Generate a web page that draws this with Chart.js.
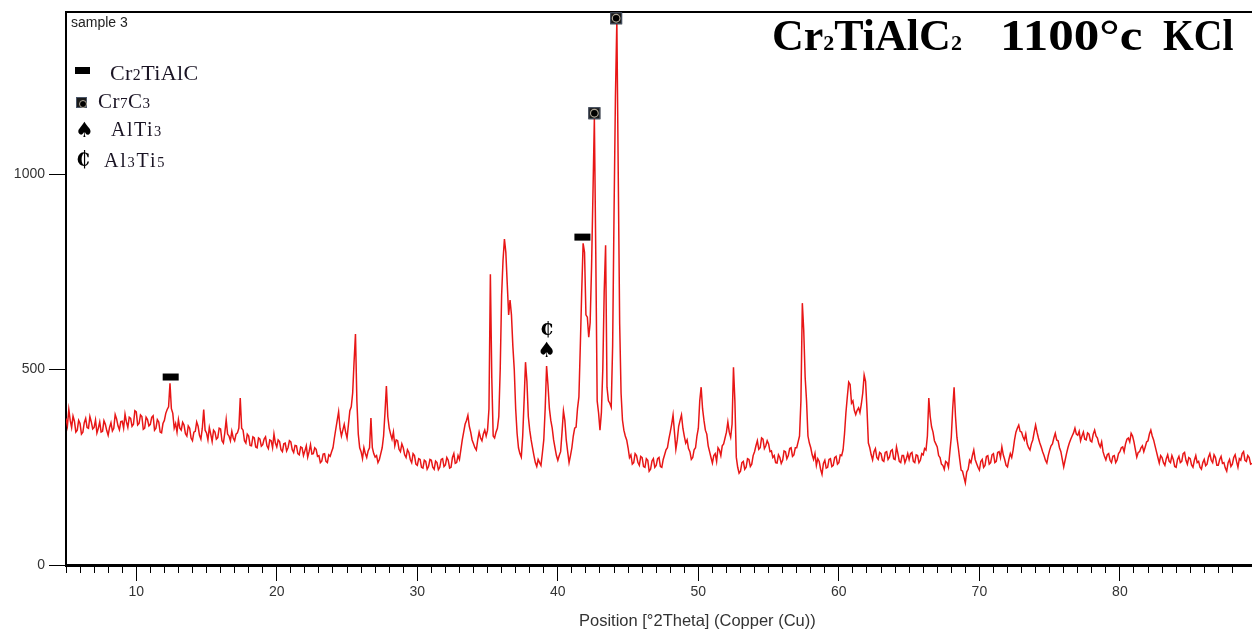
<!DOCTYPE html>
<html>
<head>
<meta charset="utf-8">
<script src="https://cdn.jsdelivr.net/npm/chart.js@4/dist/chart.umd.min.js"></script>
<style>
  html,body{margin:0;padding:0;background:#fff;overflow:hidden;}
  #wrap{position:relative;width:1252px;height:632px;}
  canvas{position:absolute;left:0;top:0;}
  .t{position:absolute;white-space:nowrap;line-height:1;}
  .sans{font-family:"Liberation Sans",Arial,sans-serif;color:#222;}
  .serif{font-family:"Liberation Serif","Times New Roman",serif;color:#1a1424;}
  .title{font-family:"Liberation Serif","Times New Roman",serif;font-weight:bold;font-size:44px;color:#000;transform-origin:0 0;}
  .sub{font-size:0.72em;}
  .tsub{font-size:22px;}
  .ico{position:absolute;}
  .sq{position:absolute;width:11px;height:11px;background:#1a1a1a;box-sizing:border-box;border:1px solid #4a5568;}
  .sq::after{content:"";position:absolute;left:1.5px;top:1.5px;width:6px;height:6px;border-radius:50%;border:1px solid #b0a898;background:#000;}
</style>
</head>
<body>
<div id="wrap">
  <canvas id="c" width="1252" height="632"></canvas>
  <div class="t sans" style="left:71px;top:15px;font-size:14px;">sample 3</div>

  <div class="ico" style="left:75px;top:67px;width:15px;height:7px;background:#000;"></div>
  <div class="t serif" style="left:110px;top:62px;font-size:22px;letter-spacing:0.4px;">Cr<span class="sub">2</span>TiAlC</div>

  <div class="sq" style="left:76px;top:97px;"></div>
  <div class="t serif" style="left:98px;top:91px;font-size:21px;letter-spacing:0.5px;">Cr<span class="sub">7</span>C<span class="sub">3</span></div>

  <div class="t" style="left:75px;top:120px;font-size:21px;font-family:'DejaVu Sans',sans-serif;color:#000;">♠</div>
  <div class="t serif" style="left:111px;top:119px;font-size:20px;letter-spacing:1.5px;">AlTi<span class="sub">3</span></div>

  <div class="t" style="left:76px;top:149px;font-size:20px;font-weight:bold;font-family:'DejaVu Serif',serif;color:#000;">₵</div>
  <div class="t serif" style="left:104px;top:150px;font-size:20px;letter-spacing:1.8px;">Al<span class="sub">3</span>Ti<span class="sub">5</span></div>

  <div class="t title" style="left:772px;top:14px;">Cr<span class="tsub">2</span>TiAlC<span class="tsub">2</span></div>
  <div class="t title" style="left:1000px;top:14px;transform:scaleX(1.16);">1100°c</div>
  <div class="t title" style="left:1163px;top:14px;transform:scaleX(0.9);">KCl</div>

  <div class="t sans" style="left:579px;top:612px;font-size:16.5px;color:#333;">Position [°2Theta] (Copper (Cu))</div>
</div>
<script>
// XRD pattern: counts sampled every 0.1 °2θ starting at 5.0
const thetaStart = 5.0;
const thetaStep = 0.1;
const intensity = [
  // 5.0 - 6.9
  375, 356, 398, 370, 352, 381, 368, 340, 345, 370, 362, 335, 340, 364, 375, 352, 350, 380, 366, 348,
  // 7.0 - 8.9
  352, 371, 338, 350, 366, 340, 342, 369, 360, 344, 332, 352, 364, 343, 350, 385, 374, 356, 346, 367,
  // 9.0 - 10.9
  368, 350, 386, 366, 352, 378, 375, 355, 360, 395, 392, 358, 362, 384, 380, 347, 350, 378, 372, 356,
  // 11.0 - 12.9
  360, 378, 382, 345, 350, 372, 366, 340, 338, 362, 370, 388, 398, 405, 465, 400, 388, 350, 362, 340,
  // 13.0 - 14.9
  372, 350, 345, 365, 358, 336, 330, 356, 350, 325, 318, 340, 342, 366, 355, 332, 322, 350, 398, 345,
  // 15.0 - 16.9
  338, 320, 352, 335, 316, 345, 340, 322, 326, 350, 348, 318, 312, 338, 372, 335, 330, 318, 342, 325,
  // 17.0 - 18.9
  318, 335, 338, 350, 427, 350, 345, 318, 312, 335, 330, 306, 305, 328, 325, 302, 300, 325, 322, 304,
  // 19.0 - 20.9
  308, 322, 328, 305, 298, 320, 318, 300, 335, 312, 302, 320, 316, 295, 290, 310, 312, 292, 300, 318,
  // 21.0 - 22.9
  315, 295, 288, 306, 305, 285, 282, 302, 300, 280, 292, 305, 276, 290, 308, 284, 285, 300, 296, 278,
  // 23.0 - 24.9
  280, 262, 266, 284, 285, 265, 262, 282, 278, 290, 300, 325, 348, 370, 392, 350, 330, 345, 360, 340,
  // 25.0 - 26.9
  325, 360, 395, 405, 440, 520, 591, 420, 335, 300, 290, 272, 300, 285, 275, 292, 300, 376, 300, 285,
  // 27.0 - 28.9
  276, 280, 262, 270, 285, 300, 330, 390, 458, 380, 350, 335, 322, 340, 305, 320, 318, 296, 290, 310,
  // 29.0 - 30.9
  300, 282, 275, 295, 288, 270, 262, 285, 280, 258, 255, 272, 270, 250, 248, 268, 265, 245, 252, 270,
  // 31.0 - 32.9
  268, 250, 245, 266, 262, 244, 250, 270, 272, 252, 256, 275, 268, 248, 250, 275, 285, 260, 262, 280,
  // 33.0 - 34.9
  270, 295, 320, 340, 360, 370, 383, 355, 340, 320, 310, 300, 294, 320, 340, 325, 318, 335, 345, 330,
  // 35.0 - 36.9
  345, 400, 744, 480, 330, 325, 340, 350, 380, 500, 690, 780, 834, 800, 720, 640, 678, 640, 560, 500,
  // 37.0 - 38.9
  400, 337, 300, 285, 276, 330, 420, 519, 470, 380, 345, 320, 300, 280, 262, 252, 270, 262, 255, 286,
  // 39.0 - 40.9
  320, 400, 509, 460, 400, 370, 350, 320, 300, 280, 268, 280, 290, 340, 394, 370, 320, 290, 262, 280,
  // 41.0 - 42.9
  300, 330, 350, 353, 400, 430, 560, 700, 823, 800, 640, 634, 583, 620, 762, 950, 1143, 800, 420, 389,
  // 43.0 - 44.9
  345, 390, 500, 700, 818, 455, 420, 414, 404, 560, 900, 1200, 1394, 1000, 620, 440, 371, 345, 330, 320,
  // 45.0 - 46.9
  300, 275, 282, 258, 262, 285, 280, 262, 255, 278, 275, 252, 250, 272, 268, 240, 245, 266, 272, 250,
  // 47.0 - 48.9
  255, 272, 275, 252, 250, 270, 282, 295, 300, 322, 340, 360, 384, 340, 296, 320, 355, 370, 384, 350,
  // 49.0 - 50.9
  330, 312, 320, 298, 290, 270, 275, 295, 300, 330, 350, 420, 455, 400, 370, 345, 335, 305, 290, 275,
  // 51.0 - 52.9
  261, 280, 285, 265, 300, 294, 280, 305, 310, 325, 340, 366, 340, 327, 360, 506, 420, 276, 250, 235,
  // 53.0 - 54.9
  240, 262, 265, 245, 250, 272, 270, 252, 258, 280, 290, 305, 318, 296, 300, 325, 322, 298, 305, 318,
  // 55.0 - 56.9
  310, 290, 292, 275, 280, 262, 261, 282, 275, 260, 268, 292, 290, 272, 280, 298, 300, 278, 282, 300,
  // 57.0 - 58.9
  300, 315, 330, 420, 670, 600, 481, 420, 330, 312, 300, 282, 270, 285, 255, 272, 265, 245, 232, 260,
  // 59.0 - 60.9
  268, 248, 250, 270, 272, 252, 255, 275, 278, 258, 262, 282, 280, 295, 335, 389, 430, 468, 462, 414,
  // 61.0 - 62.9
  420, 396, 385, 396, 402, 390, 412, 440, 486, 470, 400, 312, 300, 282, 269, 290, 298, 275, 270, 288,
  // 63.0 - 64.9
  285, 268, 265, 288, 290, 270, 276, 292, 295, 272, 270, 302, 285, 265, 262, 280, 280, 262, 272, 285,
  // 65.0 - 66.9
  270, 285, 288, 265, 262, 282, 280, 262, 268, 285, 282, 298, 294, 330, 427, 380, 353, 340, 318, 310,
  // 67.0 - 68.9
  302, 280, 275, 258, 255, 245, 265, 262, 250, 290, 327, 400, 455, 380, 327, 300, 270, 243, 240, 225,
  // 69.0 - 70.9
  210, 238, 245, 268, 262, 280, 294, 270, 260, 250, 243, 265, 270, 250, 255, 278, 280, 258, 262, 282,
  // 71.0 - 72.9
  285, 262, 265, 288, 290, 275, 302, 282, 270, 255, 251, 270, 285, 275, 294, 320, 340, 350, 358, 342,
  // 73.0 - 74.9
  340, 328, 320, 335, 310, 300, 294, 310, 320, 340, 358, 340, 325, 312, 302, 290, 280, 268, 261, 280,
  // 75.0 - 76.9
  294, 305, 310, 325, 337, 320, 318, 300, 290, 270, 251, 268, 285, 300, 312, 322, 330, 338, 350, 335,
  // 77.0 - 78.9
  332, 342, 318, 330, 340, 322, 320, 338, 335, 318, 315, 335, 345, 330, 325, 310, 302, 315, 290, 278,
  // 79.0 - 80.9
  269, 282, 285, 268, 262, 278, 280, 262, 269, 285, 290, 300, 302, 290, 310, 322, 325, 315, 337, 330,
  // 81.0 - 82.9
  315, 295, 276, 288, 290, 300, 305, 290, 302, 315, 318, 335, 345, 330, 320, 305, 290, 275, 261, 280,
  // 83.0 - 84.9
  275, 262, 255, 272, 282, 266, 262, 280, 270, 252, 250, 270, 278, 262, 265, 285, 288, 268, 258, 275,
  // 85.0 - 86.9
  272, 256, 250, 268, 280, 262, 265, 250, 245, 262, 270, 254, 258, 276, 285, 268, 262, 282, 275, 255,
  // 87.0 - 88.9
  255, 270, 278, 260, 262, 248, 240, 262, 270, 252, 258, 275, 282, 265, 250, 272, 268, 285, 290, 268,
  // 89.0 - 89.4
  265, 280, 275, 258, 260
];

// Phase identification markers
const markerPhase  = ['Cr2TiAlC', 'Cr2TiAlC', 'Cr7C3', 'Cr7C3', 'AlTi3', 'Al3Ti5'];
const markerTheta  = [12.45, 41.75, 42.6, 44.15, 39.2, 39.2];
const markerCounts = [481, 839, 1156, 1399, 547, 601];

const xMin = 5, xMax = 89.4, yMin = 0, yMax = 1414;
const yTickValues = [0, 500, 1000];

const points = intensity.map((v, i) => ({x: thetaStart + i * thetaStep, y: v}));

const markerPlugin = {
  id: 'phaseMarkers',
  afterDatasetsDraw(chart) {
    const {ctx, scales: {x, y}} = chart;
    ctx.save();
    for (let i = 0; i < markerPhase.length; i++) {
      const cx = x.getPixelForValue(markerTheta[i]);
      const cy = y.getPixelForValue(markerCounts[i]);
      const p = markerPhase[i];
      if (p === 'Cr2TiAlC') {
        ctx.fillStyle = '#000';
        ctx.fillRect(cx - 8, cy - 3.5, 16, 7);
      } else if (p === 'Cr7C3') {
        ctx.fillStyle = '#1a1a1a';
        ctx.fillRect(cx - 6, cy - 6, 12, 12);
        ctx.strokeStyle = '#4a5568';
        ctx.lineWidth = 1;
        ctx.strokeRect(cx - 5.5, cy - 5.5, 11, 11);
        ctx.beginPath();
        ctx.arc(cx, cy, 3.8, 0, Math.PI * 2);
        ctx.strokeStyle = '#b0a898';
        ctx.lineWidth = 1.2;
        ctx.stroke();
        ctx.beginPath();
        ctx.arc(cx, cy, 3, 0, Math.PI * 2);
        ctx.fillStyle = '#000';
        ctx.fill();
      } else if (p === 'AlTi3') {
        ctx.fillStyle = '#000';
        ctx.font = '21px "DejaVu Sans"';
        ctx.textAlign = 'center';
        ctx.textBaseline = 'middle';
        ctx.fillText('♠', cx, cy);
      } else if (p === 'Al3Ti5') {
        ctx.fillStyle = '#000';
        ctx.font = 'bold 19px "DejaVu Serif"';
        ctx.textAlign = 'center';
        ctx.textBaseline = 'middle';
        ctx.fillText('₵', cx, cy);
      }
    }
    ctx.restore();
  }
};

const tickFont = {family: '"Liberation Sans", Arial, sans-serif', size: 14};

new Chart(document.getElementById('c'), {
  type: 'line',
  data: {
    datasets: [{
      data: points,
      borderColor: '#e81616',
      borderWidth: 1.5,
      pointRadius: 0,
      tension: 0,
      fill: false
    }]
  },
  options: {
    responsive: false,
    animation: false,
    layout: {padding: 0},
    plugins: {legend: {display: false}, tooltip: {enabled: false}},
    scales: {
      x: {
        type: 'linear', position: 'bottom', min: xMin, max: xMax,
        afterFit(s) { s.height = 67; },
        afterBuildTicks(s) { s.ticks = s.ticks.filter(t => Number.isInteger(t.value)); },
        ticks: {
          stepSize: 1, autoSkip: false, maxRotation: 0, padding: 3,
          color: '#333', font: tickFont,
          callback: v => (v % 10 === 0 ? String(v) : '')
        },
        grid: {
          drawOnChartArea: false, tickLength: 16, tickColor: '#000', tickWidth: 1,
          tickBorderDash: c => (c.tick && c.tick.value % 10 === 0 ? [] : [6, 100])
        },
        border: {color: '#000', width: 3}
      },
      x2: {
        type: 'linear', position: 'top', min: xMin, max: xMax,
        afterFit(s) { s.height = 12; },
        ticks: {display: false},
        grid: {display: false},
        border: {display: true, color: '#000', width: 2}
      },
      y: {
        type: 'linear', position: 'left', min: yMin, max: yMax,
        afterFit(s) { s.width = 66; },
        afterBuildTicks(s) { s.ticks = yTickValues.map(v => ({value: v})); },
        ticks: {padding: 4, color: '#333', font: tickFont, callback: v => String(v)},
        grid: {drawOnChartArea: false, tickLength: 17, tickColor: '#000', tickWidth: 1},
        border: {color: '#000', width: 2}
      }
    }
  },
  plugins: [markerPlugin]
});
</script>
</body>
</html>
